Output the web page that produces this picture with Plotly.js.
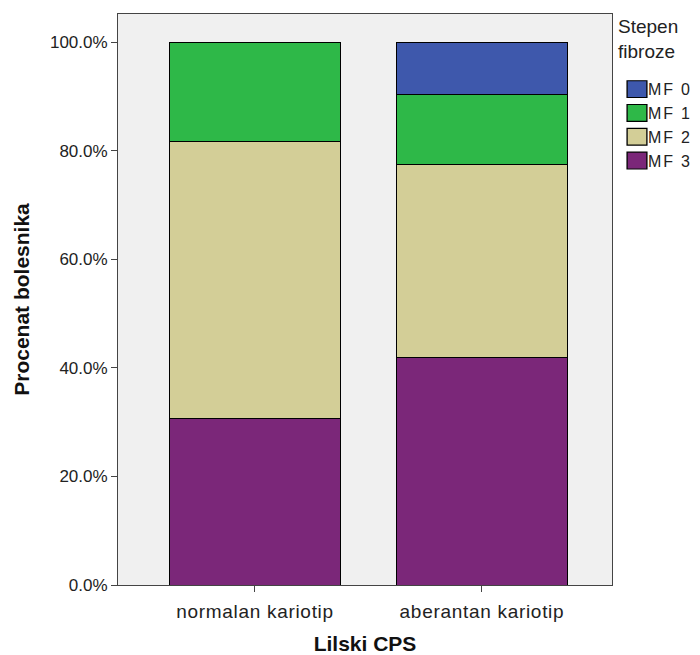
<!DOCTYPE html>
<html>
<head>
<meta charset="utf-8">
<script src="https://cdn.plot.ly/plotly-3.0.1.min.js"></script>
<style>
html,body{margin:0;padding:0;background:#fff;}
.xtick text{letter-spacing:0.7px;}
.legend .legendtext{letter-spacing:1.8px;}
</style>
</head>
<body>
<div id="chart" style="width:700px;height:655px;"></div>
<script>
const categories = ["normalan kariotip", "aberantan kariotip"];
const seriesNames = ["MF 3", "MF 2", "MF 1", "MF 0"];
const mf3 = [30.7, 41.9];
const mf2 = [51.1, 35.5];
const mf1 = [18.2, 13.0];
const mf0 = [0, 9.6];
const colors = ["#7b2779", "#d3ce97", "#2eb848", "#3e58ac"];
const values = [mf3, mf2, mf1, mf0];
const yTickVals = [0, 20, 40, 60, 80, 100];
const yTickText = ["0.0%", "20.0%", "40.0%", "60.0%", "80.0%", "100.0%"];

const traces = values.map((v, i) => ({
  type: "bar",
  name: seriesNames[i],
  x: categories,
  y: v,
  width: 0.75,
  marker: { color: colors[i], line: { color: "#000", width: 1 } },
  hoverinfo: "skip"
}));

const layout = {
  width: 700, height: 655,
  margin: { l: 118, r: 88, t: 14, b: 70, autoexpand: false },
  barmode: "stack",
  paper_bgcolor: "#ffffff",
  plot_bgcolor: "#f0f0f0",
  font: { family: "Liberation Sans, Arial, sans-serif", color: "#222", size: 14 },
  xaxis: {
    range: [-0.6035, 1.573],
    showline: true, mirror: true, linecolor: "#444", linewidth: 1,
    ticks: "outside", ticklen: 6, tickcolor: "#444",
    ticklabelstandoff: 3,
    tickfont: { size: 19, color: "#222" },
    title: { text: "<b>Lilski CPS</b>", font: { size: 21, color: "#111" }, standoff: 18 },
    showgrid: false, zeroline: false, fixedrange: true
  },
  yaxis: {
    range: [0, 105.2],
    tickvals: yTickVals,
    ticktext: yTickText,
    showline: true, mirror: true, linecolor: "#444", linewidth: 1,
    ticks: "outside", ticklen: 6, tickcolor: "#444",
    tickfont: { size: 17, color: "#222" },
    title: { text: "<b>Procenat bolesnika</b>", font: { size: 21, color: "#111" }, standoff: 14 },
    showgrid: false, zeroline: false, fixedrange: true
  },
  legend: {
    x: -0.008, xref: "paper", xanchor: "left", y: 0.898, yanchor: "top",
    traceorder: "reversed",
    font: { size: 16, color: "#222" },
    bgcolor: "rgba(0,0,0,0)",
    itemwidth: 30,
    tracegroupgap: 0
  },
  annotations: [{
    text: "Stepen<br>fibroze",
    xref: "paper", yref: "paper",
    x: 1.008, y: 1.0, xanchor: "left", yanchor: "top",
    showarrow: false, align: "left",
    font: { size: 19, color: "#222" }
  }],
  showlegend: true
};

// place legend just right of plot area
layout.legend.x = 1 + (608 - 612) / 494;

Plotly.newPlot("chart", traces, layout, { displayModeBar: false, staticPlot: true }).then(gd => {
  gd.querySelectorAll(".legend .legendpoints path").forEach(p => {
    const t = p.getAttribute("transform") || "";
    p.setAttribute("transform", "translate(9,0) " + t + " scale(1.65,1.4)");
    p.style.strokeWidth = "0.8px";
  });
  gd.querySelectorAll(".legend [clip-path]").forEach(el => el.removeAttribute("clip-path"));
  const lg = gd.querySelector(".legend");
  if (lg && lg.hasAttribute("clip-path")) lg.removeAttribute("clip-path");
});
</script>
</body>
</html>
